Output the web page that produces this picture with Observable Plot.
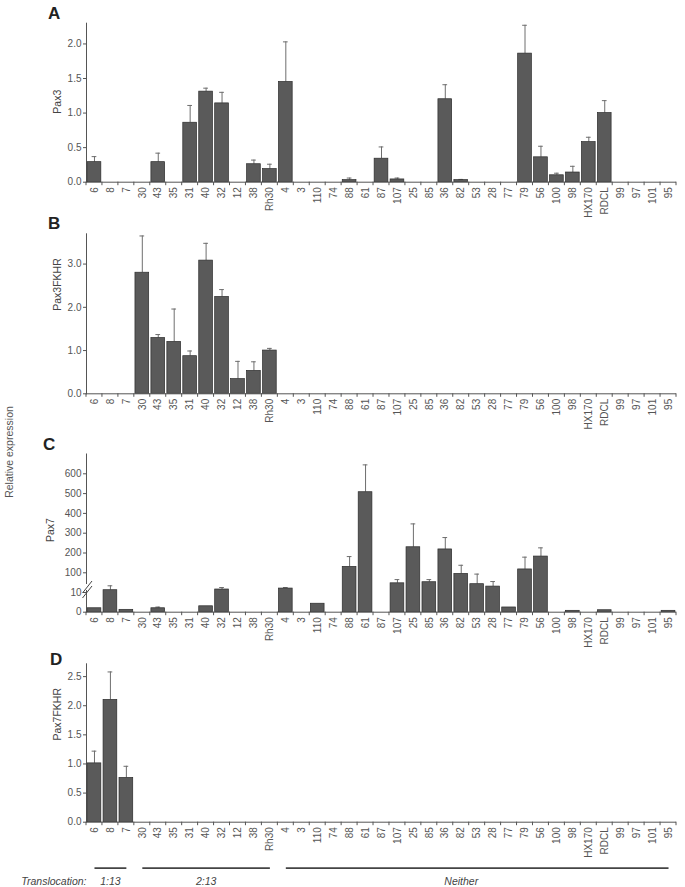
<!DOCTYPE html>
<html><head><meta charset="utf-8">
<script src="https://cdn.jsdelivr.net/npm/d3@7"></script>
<script src="https://cdn.jsdelivr.net/npm/@observablehq/plot@0.6"></script>
<style>
body{margin:0;background:#fff;}
#root{position:relative;width:685px;height:887px;overflow:hidden;font-family:"Liberation Sans",Arial,sans-serif;}
.panel{position:absolute;left:0;}
.letter{position:absolute;font-weight:bold;font-size:17px;line-height:17px;color:#222;}
#ylab{position:absolute;left:9px;top:451.5px;transform:translate(-50%,-50%) rotate(-90deg);white-space:nowrap;font-size:10.5px;color:#555;}
</style></head>
<body><div id="root"><div id="ylab">Relative expression</div></div>
<script>
const categories = ["6","8","7","30","43","35","31","40","32","12","38","Rh30","4","3","110","74","88","61","87","107","25","85","36","82","53","28","77","79","56","100","98","HX170","RDCL","99","97","101","95"];

const pax3 = [0.29,0,0,0,0.29,0,0.86,1.31,1.14,0,0.26,0.19,1.45,0,0,0,0.03,0,0.34,0.04,0,0,1.20,0.03,0,0,0,1.86,0.36,0.10,0.14,0.58,1.00,0,0,0,0];
const pax3Err = [0.37,null,null,null,0.42,null,1.11,1.36,1.30,null,0.32,0.26,2.03,null,null,null,0.06,null,0.51,0.06,null,null,1.41,0.04,null,null,null,2.27,0.52,0.13,0.23,0.65,1.18,null,null,null,null];

const pax3fkhr = [0,0,0,2.80,1.29,1.20,0.87,3.08,2.24,0.34,0.53,1.00,0,0,0,0,0,0,0,0,0,0,0,0,0,0,0,0,0,0,0,0,0,0,0,0,0];
const pax3fkhrErr = [null,null,null,3.65,1.37,1.96,0.99,3.48,2.41,0.75,0.74,1.05,null,null,null,null,null,null,null,null,null,null,null,null,null,null,null,null,null,null,null,null,null,null,null,null,null];

const pax7 = [2.0,20.5,1.2,0,2.0,0,0,3.0,23.7,0,0,0,28,0,4.3,0,130,507,0,52,229,57,218,95,48,37,2.4,117,182,0,0.7,0,1.0,0,0,0,0.7];
const pax7Err = [null,40.6,null,null,2.6,null,null,null,32.8,null,null,null,32.8,null,null,null,182,645,null,69,347,69,278,138,94,60,null,179,226,null,null,null,null,null,null,null,null];

const pax7fkhr = [1.01,2.10,0.76,0,0,0,0,0,0,0,0,0,0,0,0,0,0,0,0,0,0,0,0,0,0,0,0,0,0,0,0,0,0,0,0,0,0];
const pax7fkhrErr = [1.22,2.58,0.96,null,null,null,null,null,null,null,null,null,null,null,null,null,null,null,null,null,null,null,null,null,null,null,null,null,null,null,null,null,null,null,null,null,null];

const ticksA = [0,0.5,1,1.5,2];
const ticksB = [0,1,2,3];
const ticksC = [0,10,100,200,300,400,500,600];
const ticksD = [0,0.5,1,1.5,2,2.5];

const groupLabels = ["1:13","2:13","Neither"];
const groupStart = ["6","30","4"];
const groupEnd = ["7","Rh30","95"];
const groupAt = ["8","40","82"];

const root = document.getElementById("root");
const fontFamily = '"Liberation Sans", Arial, sans-serif';
const W = 685, ML = 86, MR = 9;
const xOpts = {type: "band", domain: categories, paddingInner: 0.14, paddingOuter: 0.07};

function panel(cfg) {
  const data = categories.map((c, i) => ({cat: c, v: cfg.values[i], e: cfg.errs[i]}));
  const bars = data.filter(d => d.v > 0);
  const errs = data.filter(d => d.e != null);
  const fig = Plot.plot({
    width: W, height: cfg.height, marginLeft: ML, marginRight: MR, marginTop: cfg.mt, marginBottom: cfg.mb,
    style: {background: "transparent", fontFamily, fontSize: "10px", color: "#555", overflow: "visible"},
    x: {...xOpts, tickSize: 0, tickPadding: 5, tickRotate: -90, label: null},
    y: {...cfg.y, ticks: cfg.ticks, tickFormat: cfg.fmt, tickSize: 3, tickPadding: 2, line: true, label: null, nice: false},
    marks: [
      Plot.ruleX(errs, {x: "cat", y1: "v", y2: "e", stroke: "#6e6e6e", strokeWidth: 1}),
      Plot.tickY(errs, {x: "cat", y: "e", stroke: "#6e6e6e", strokeWidth: 1, insetLeft: 4.5, insetRight: 4.5}),
      Plot.barY(bars, {x: "cat", y: "v", fill: "#5a5a5a", stroke: "#2c2c2c", strokeWidth: 0.7}),
      Plot.ruleY([0], {stroke: "#555"}),
      Plot.text([cfg.label], {text: d => d, frameAnchor: "left", rotate: -90, dx: cfg.ldx, dy: cfg.ldy, fontSize: 10.5, fill: "#444"})
    ]
  });
  const xs = fig.scale("x"), ys = fig.scale("y");
  const s0 = xs.apply(categories[0]), s1 = xs.apply(categories[1]);
  const step = s1 - s0, gap = step - xs.bandwidth;
  const y0 = ys.apply(0);
  const g = d3.select(fig).append("g").attr("stroke", "#555");
  for (let i = 0; i <= categories.length; i++) {
    const x = s0 - gap / 2 + i * step;
    g.append("line").attr("x1", x).attr("x2", x).attr("y1", y0).attr("y2", y0 + 3.5);
  }
  if (cfg.brk) {
    const y10 = ys.apply(10);
    const b = d3.select(fig).append("g");
    b.append("rect").attr("x", ML - 2).attr("y", y10 - 8).attr("width", 4).attr("height", 6).attr("fill", "#fff");
    b.append("line").attr("x1", ML - 3.5).attr("y1", y10 + 1).attr("x2", ML + 6).attr("y2", y10 - 11).attr("stroke", "#444").attr("stroke-width", 1);
    b.append("line").attr("x1", ML - 3.5).attr("y1", y10 + 6).attr("x2", ML + 6).attr("y2", y10 - 6).attr("stroke", "#444").attr("stroke-width", 1);
  }
  fig.classList.add("panel");
  fig.style.top = cfg.top + "px";
  root.appendChild(fig);
  const L = document.createElement("div");
  L.className = "letter";
  L.textContent = cfg.letter;
  L.style.left = cfg.lx + "px";
  L.style.top = cfg.ly + "px";
  root.appendChild(L);
}

const f1 = d3.format(".1f");
panel({values: pax3, errs: pax3Err, top: 0, height: 215, mt: 22.7, mb: 33.3, y: {domain: [0, 2.3]}, ticks: ticksA, fmt: f1, label: "Pax3", ldx: -29, ldy: 11, letter: "A", lx: 48, ly: 5});
panel({values: pax3fkhr, errs: pax3fkhrErr, top: 215, height: 215, mt: 18.3, mb: 36.7, y: {domain: [0, 3.7]}, ticks: ticksB, fmt: f1, label: "Pax3FKHR", ldx: -29, ldy: -3, letter: "B", lx: 48, ly: 215});
panel({values: pax7, errs: pax7Err, top: 430, height: 215, mt: 23.5, mb: 33.3, y: {type: "linear", domain: [0, 10, 100, 700], range: [181.7, 162, 142.3, 23.5]}, ticks: ticksC, fmt: d => String(d), label: "Pax7", ldx: -36, ldy: 9, letter: "C", lx: 43, ly: 436, brk: true});
panel({values: pax7fkhr, errs: pax7fkhrErr, top: 645, height: 215, mt: 18.3, mb: 38.3, y: {domain: [0, 2.72]}, ticks: ticksD, fmt: f1, label: "Pax7FKHR", ldx: -29, ldy: -2.5, letter: "D", lx: 50, ly: 651});

// translocation strip
const groups = groupLabels.map((l, i) => ({label: l, start: groupStart[i], end: groupEnd[i], at: groupAt[i]}));
const strip = Plot.plot({
  width: W, height: 27, marginLeft: ML, marginRight: MR, marginTop: 0, marginBottom: 0,
  style: {background: "transparent", fontFamily, fontSize: "10.5px", color: "#444", overflow: "visible"},
  x: {...xOpts, axis: null},
  y: {domain: [0, 1], range: [7.7, 20.7], axis: null},
  marks: [
    Plot.link(groups, {x1: "start", x2: "end", y1: () => 0, y2: () => 0, stroke: "#444", strokeWidth: 1.8}),
    Plot.text(groups, {x: "at", y: () => 1, text: "label", fontStyle: "italic", fill: "#444"}),
    Plot.text(["Translocation:"], {text: d => d, frameAnchor: "left", y: () => 1, textAnchor: "end", fontStyle: "italic", fill: "#444"})
  ]
});
strip.classList.add("panel");
strip.style.top = "860px";
root.appendChild(strip);
</script>
</body></html>
